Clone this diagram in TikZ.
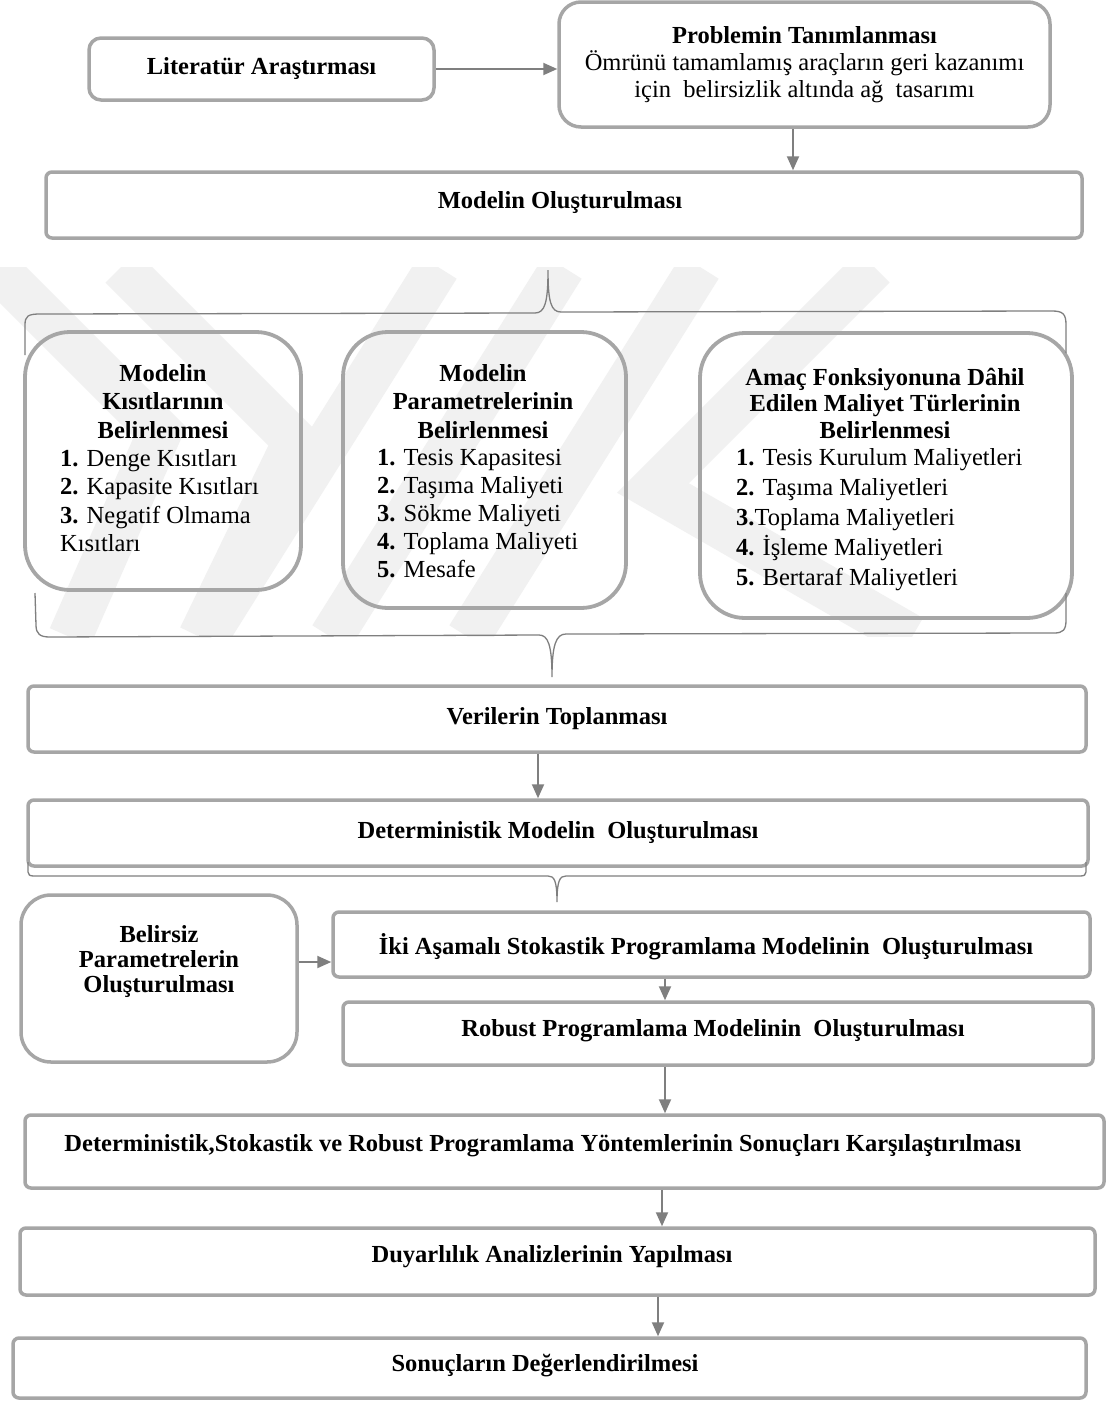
\documentclass[tikz,border=0pt]{standalone}
\usepackage{fontspec}
\setmainfont{Liberation Serif}
\usetikzlibrary{arrows.meta}
\definecolor{boxgray}{HTML}{A6A6A6}
\definecolor{arrgray}{HTML}{7F7F7F}
\definecolor{wmgray}{HTML}{F1F1F1}
\tikzset{
  flowbox/.style={draw=boxgray, line width=3.5pt, rounded corners=6pt, align=center, inner sep=0pt,
    font=\fontsize{24.5}{28.5}\selectfont\bfseries},
  roundbox/.style={draw=boxgray, line width=3.8pt, rounded corners=45pt, inner sep=0pt},
  txt/.style={inner sep=0pt, font=\fontsize{24.5}{28.5}\selectfont},
  arr/.style={draw=arrgray, line width=2pt, -{Triangle[length=14pt,width=12pt]}},
  bracel/.style={draw=arrgray, line width=1.3pt},
  wm/.style={draw=wmgray, line width=44pt, line join=miter},
}
\begin{document}
\begin{tikzpicture}[x=1pt,y=-1pt]
\useasboundingbox (0,0) rectangle (1110,1401);
\fill[white] (0,0) rectangle (1110,1401);

% faint watermark
\begin{scope}
\clip (0,267) rectangle (1110,636);
\draw[wm] (-5,267) -- (160,432) -- (70,637);
\draw[wm] (121,267) -- (295,441) -- (200,637);
\draw[wm] (438,267) -- (206,637);
\draw[wm] (563,267) -- (331,637);
\draw[wm] (700,267) -- (468,637);
\draw[wm] (874,267) -- (653,488) -- (912,637);
\end{scope}

% top row
\node[flowbox, rounded corners=12pt, minimum width=345pt, minimum height=62pt] (lit) at (261.5,69) {Literatür Araştırması};
\node[flowbox, rounded corners=22pt, minimum width=491pt, minimum height=125pt,
      font=\fontsize{24.5}{27}\selectfont\bfseries] (prob) at (804.5,64.5)
  {Problemin Tanımlanması\\{\mdseries Ömrünü tamamlamış araçların geri kazanımı}\\{\mdseries için\ \ belirsizlik altında ağ\ \ tasarımı}};
\node[flowbox, minimum width=1036pt, minimum height=66pt] (model) at (564,205) {};
\node[txt, font=\fontsize{24.5}{28.5}\selectfont\bfseries] (modelt) at (560,203) {Modelin Oluşturulması};

\coordinate (g1) at (793,0);
\draw[arr] (lit.east) -- (prob.west |- lit.east);
\draw[arr] (prob.south -| g1) -- (model.north -| g1);

% three boxes
\node[roundbox, minimum width=276pt, minimum height=258pt] (k1) at (163,461) {};
\node[roundbox, minimum width=283pt, minimum height=276pt] (k2) at (484.5,470) {};
\node[roundbox, minimum width=372pt, minimum height=285pt] (k3) at (886,475.5) {};

\node[txt, align=center, font=\fontsize{24.5}{28.5}\selectfont\bfseries] (k1t) at (163,401.5) {Modelin\\Kısıtlarının\\Belirlenmesi};
\node[txt, align=left, anchor=west] (k1i) at (60,500.5) {\textbf{1.} Denge Kısıtları\\\textbf{2.} Kapasite Kısıtları\\\textbf{3.} Negatif Olmama\\Kısıtları};

\node[txt, align=center, font=\fontsize{24.5}{28.5}\selectfont\bfseries] (k2t) at (483,401.5) {Modelin\\Parametrelerinin\\Belirlenmesi};
\node[txt, align=left, anchor=west, font=\fontsize{24.5}{28}\selectfont] (k2i) at (377,514) {\textbf{1.} Tesis Kapasitesi\\\textbf{2.} Taşıma Maliyeti\\\textbf{3.} Sökme Maliyeti\\\textbf{4.} Toplama Maliyeti\\\textbf{5.} Mesafe};

\node[txt, align=center, font=\fontsize{24.5}{26.5}\selectfont\bfseries] (k3t) at (885,403.3) {Amaç Fonksiyonuna Dâhil\\Edilen Maliyet Türlerinin\\Belirlenmesi};
\node[txt, align=left, anchor=west, font=\fontsize{24.5}{30}\selectfont] (k3i) at (736,520) {\textbf{1.} Tesis Kurulum Maliyetleri\\\textbf{2.} Taşıma Maliyetleri\\\textbf{3.}Toplama Maliyetleri\\\textbf{4.} İşleme Maliyetleri\\\textbf{5.} Bertaraf Maliyetleri};

% braces
\draw[bracel] (25,355) -- (25,325) .. controls (25,316) and (28,314) .. (40,314)
  -- (535,313) .. controls (545,313) and (548,302) .. (548,270)
  .. controls (548,302) and (551,312) .. (561,312)
  -- (1052,311) .. controls (1063,311) and (1066,314) .. (1066,325) -- (1066,353);
\draw[bracel] (35,593) -- (36,625) .. controls (36,634) and (40,637) .. (50,637)
  -- (539,635) .. controls (548,635) and (552,645) .. (552,677)
  .. controls (552,645) and (556,634) .. (566,634)
  -- (1054,633) .. controls (1063,633) and (1066,630) .. (1066,620) -- (1066,593);

% middle
\node[flowbox, minimum width=1058pt, minimum height=66pt] (ver) at (557,719) {Verilerin Toplanması};
\node[flowbox, minimum width=1060pt, minimum height=66pt] (det) at (558,833) {Deterministik Modelin\ \ Oluşturulması};
\coordinate (g2) at (538,0);
\draw[arr] (ver.south -| g2) -- (det.north -| g2);

\draw[bracel] (28,862) -- (28,872) .. controls (28,875) and (30,876) .. (34,876)
  -- (548,876) .. controls (554,876) and (557,880) .. (557,902)
  .. controls (557,880) and (560,876) .. (566,876)
  -- (1080,876) .. controls (1084,876) and (1086,875) .. (1086,872) -- (1086,862);

\node[flowbox, rounded corners=30pt, minimum width=276pt, minimum height=167pt] (bel) at (159,978.5) {};
\node[txt, align=center, font=\fontsize{24.5}{25}\selectfont\bfseries] (belt) at (159,962) {Belirsiz\\Parametrelerin\\Oluşturulması};
\node[flowbox, minimum width=757pt, minimum height=65pt] (iki) at (711.5,944.5) {};
\node[txt, font=\fontsize{24.5}{28.5}\selectfont\bfseries] (ikit) at (706,947) {İki Aşamalı Stokastik Programlama Modelinin\ \ Oluşturulması};
\node[flowbox, minimum width=750pt, minimum height=63pt] (rob) at (718,1033.5) {};
\node[txt, font=\fontsize{24.5}{28.5}\selectfont\bfseries] (robt) at (713,1031) {Robust Programlama Modelinin\ \ Oluşturulması};
\draw[arr] (bel.east |- belt) -- (iki.west |- belt);
\coordinate (g3) at (665,0);
\draw[arr] (iki.south -| g3) -- (rob.north -| g3);

% bottom
\node[flowbox, minimum width=1079pt, minimum height=73pt] (kars) at (564.5,1151.5) {};
\node[txt, font=\fontsize{24.5}{28.5}\selectfont\bfseries] (karst) at (543,1146) {Deterministik,Stokastik ve Robust Programlama Yöntemlerinin Sonuçları Karşılaştırılması};
\node[flowbox, minimum width=1075pt, minimum height=67pt] (duy) at (557.5,1261.5) {};
\node[txt, font=\fontsize{24.5}{28.5}\selectfont\bfseries] (duyt) at (552,1257) {Duyarlılık Analizlerinin Yapılması};
\node[flowbox, minimum width=1073pt, minimum height=60pt] (son) at (549.5,1368) {};
\node[txt, font=\fontsize{24.5}{28.5}\selectfont\bfseries] (sont) at (545,1366) {Sonuçların Değerlendirilmesi};
\draw[arr] (rob.south -| g3) -- (kars.north -| g3);
\coordinate (g4) at (662,0);
\draw[arr] (kars.south -| g4) -- (duy.north -| g4);
\coordinate (g5) at (658,0);
\draw[arr] (duy.south -| g5) -- (son.north -| g5);
\end{tikzpicture}
\end{document}
